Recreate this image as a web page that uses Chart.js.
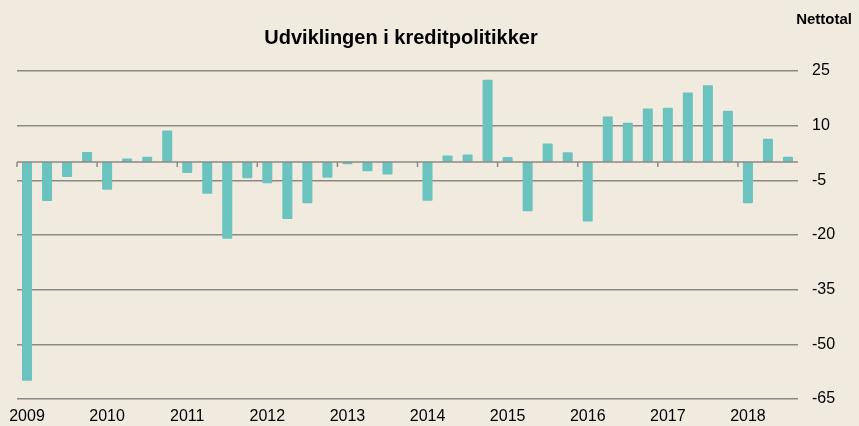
<!DOCTYPE html>
<html>
<head>
<meta charset="utf-8">
<script src="https://cdn.jsdelivr.net/npm/chart.js@4"></script>
<style>
  html, body { margin: 0; padding: 0; background: #f0eadf; }
  #wrap { position: relative; width: 859px; height: 426px; }
</style>
</head>
<body>
<div id="wrap"><canvas id="myChart" width="859" height="426"></canvas></div>
<script>
// quarters 2009 Q1 .. 2018 Q3
var years = ["2009", "2010", "2011", "2012", "2013", "2014", "2015", "2016", "2017", "2018"];
var quarters = [];
years.forEach(function (y) {
  ["K1", "K2", "K3", "K4"].forEach(function (q) { quarters.push(y + " " + q); });
});
quarters = quarters.slice(0, 39);

var nettotal = [
  -60, -10.7, -4.1, 2.8,
  -7.6, 1.0, 1.5, 8.7,
  -3.0, -8.7, -21.0, -4.4,
  -5.8, -15.6, -11.3, -4.3,
  -0.6, -2.5, -3.4, 0,
  -10.6, 1.8, 2.1, 22.6,
  1.4, -13.5, 5.1, 2.7,
  -16.3, 12.5, 10.8, 14.7,
  14.9, 19.1, 21.1, 14.1,
  -11.3, 6.4, 1.5
];

var yTicks = [25, 10, -5, -20, -35, -50, -65];

var titleText = "Udviklingen i kreditpolitikker";
var unitText = "Nettotal";

var FONT = "'Liberation Sans', Arial, sans-serif";

// zero line, year tick marks and header texts
var extras = {
  id: "extras",
  afterDatasetsDraw: function (chart) {
    var ctx = chart.ctx, x = chart.scales.x, y = chart.scales.y, a = chart.chartArea;
    var y0 = y.getPixelForValue(0);
    ctx.save();
    ctx.strokeStyle = "#8c8a86";
    ctx.lineWidth = 1.5;
    ctx.beginPath();
    ctx.moveTo(a.left, y0);
    ctx.lineTo(a.right, y0);
    var half = (x.getPixelForValue(1) - x.getPixelForValue(0)) / 2;
    for (var i = 0; i < quarters.length; i += 4) {
      var px = x.getPixelForValue(i) - half;
      ctx.moveTo(px, y0);
      ctx.lineTo(px, y0 + 5);
    }
    ctx.stroke();

    ctx.fillStyle = "#000";
    ctx.textBaseline = "middle";
    ctx.textAlign = "center";
    ctx.font = "bold 20px " + FONT;
    ctx.fillText(titleText, 401, 38);
    ctx.textAlign = "right";
    ctx.font = "bold 15px " + FONT;
    ctx.fillText(unitText, 852, 20);
    ctx.restore();
  }
};

var statsChart = document.getElementById("myChart");
var myChart = new Chart(statsChart, {
  type: "bar",
  data: {
    labels: quarters,
    datasets: [
      {
        label: unitText,
        data: nettotal,
        backgroundColor: "#6bc3c0",
        borderRadius: 1,
        borderSkipped: false,
        barPercentage: 0.5,
        categoryPercentage: 1
      }
    ]
  },
  options: {
    responsive: false,
    animation: false,
    layout: { padding: { left: 17, right: 0, top: 71, bottom: 0 } },
    plugins: {
      legend: { display: false },
      title: { display: false },
      tooltip: { enabled: false }
    },
    scales: {
      x: {
        afterFit: function (scale) { scale.height = 27; },
        grid: { display: false },
        border: { display: false },
        ticks: {
          autoSkip: false,
          maxRotation: 0,
          padding: 0,
          color: "#000",
          font: { family: FONT, size: 16 },
          callback: function (v, i) { return i % 4 === 0 ? quarters[i].slice(0, 4) : ""; }
        }
      },
      y: {
        position: "right",
        min: -65,
        max: 25,
        afterBuildTicks: function (scale) {
          scale.ticks = yTicks.map(function (v) { return { value: v }; });
        },
        afterFit: function (scale) { scale.width = 61; },
        grid: { color: "#8c8a86", lineWidth: 1.5, drawTicks: false },
        border: { display: false },
        ticks: {
          padding: 14,
          crossAlign: "near",
          color: "#000",
          font: { family: FONT, size: 16 }
        }
      }
    }
  },
  plugins: [extras]
});
</script>
</body>
</html>
